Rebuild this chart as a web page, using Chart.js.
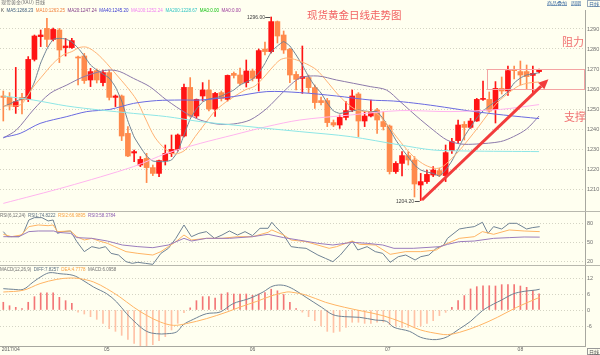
<!DOCTYPE html>
<html><head><meta charset="utf-8">
<script src="https://cdn.jsdelivr.net/npm/chart.js@4.4.1/dist/chart.umd.min.js"></script>
<style>
html,body{margin:0;padding:0;background:#fffff0;}
#wrap{position:relative;width:600px;height:355px;overflow:hidden;background:#fffff0;}
canvas{position:absolute;left:0;}
.t{position:absolute;white-space:nowrap;line-height:1;font-family:"Liberation Sans",Arial,sans-serif;}
.s{transform:scale(0.5);transform-origin:0 0;}
.row{display:flex;gap:5px;font-size:9px;}
.cjk{font-family:"Noto Sans CJK SC",sans-serif;}
.sep{position:absolute;left:0;width:600px;height:1px;background:#b8b8ae;}
.lbl{position:absolute;white-space:nowrap;line-height:1;font-family:"Liberation Sans",Arial,sans-serif;font-size:10px;color:#404040;transform-origin:100% 50%;transform:translate(-100%,-50%) scale(0.5);}
</style></head><body>
<div id="wrap">
<canvas id="cMain" width="600" height="211" style="top:0px"></canvas>
<canvas id="cRsi" width="600" height="53" style="top:212px"></canvas>
<canvas id="cMacd" width="600" height="89" style="top:266px"></canvas>
<div class="sep" style="top:211px"></div>
<div class="sep" style="top:265px"></div>

<div class="t cjk s" style="left:1px;top:-1px;font-size:10px;color:#707070">现货黄金(XAU) 日线</div>
<div class="t cjk s" style="left:547px;top:0px;font-size:10px;color:#3868a0;text-decoration:underline">商品叠加</div>
<div class="t cjk s" style="left:571px;top:0px;font-size:10px;color:#3868a0;text-decoration:underline">周期</div>
<div class="t cjk s" style="left:587px;top:0px;font-size:10px;color:#3868a0;border:2px solid #9ab;padding:0 2px">日线</div>

<div class="t s row" style="left:0.5px;top:7.8px">
 <span style="color:#404040">K</span>
 <span style="color:#3d5c7c">MA5:1268.23</span>
 <span style="color:#f0803c">MA10:1263.25</span>
 <span style="color:#803a86">MA20:1247.24</span>
 <span style="color:#3a3ad0">MA40:1245.20</span>
 <span style="color:#f080f0">MA100:1252.24</span>
 <span style="color:#30c4c4">MA200:1228.67</span>
 <span style="color:#10c010">MA0:0.00</span>
 <span style="color:#9a3a9a">MA0:0.00</span>
</div>

<div class="t cjk" style="left:307px;top:10px;font-size:10.5px;color:#f26262">现货黄金日线走势图</div>
<div class="t cjk" style="left:562px;top:36px;font-size:11px;color:#f07070">阻力</div>
<div class="t cjk" style="left:564px;top:111px;font-size:11px;color:#f07070">支撑</div>

<div class="t s row" style="left:0px;top:213px">
 <span style="color:#707070">RSI(6,12,24)</span>
 <span style="color:#5a6e80">RSI1:74.8222</span>
 <span style="color:#f8a040">RSI2:66.9895</span>
 <span style="color:#8a5ab0">RSI3:58.3784</span>
</div>

<div class="t s row" style="left:0px;top:267px">
 <span style="color:#707070">MACD(12,26,9)</span>
 <span style="color:#5a6e80">DIFF:7.8257</span>
 <span style="color:#f8a040">DEA:4.7778</span>
 <span style="color:#707070">MACD:6.0958</span>
</div>

<div class="t cjk s" style="left:587px;top:347.5px;font-size:10px;color:#505050;border:2px solid #999;padding:0 2px">日线</div>

<div class="lbl" id="hiLbl">1296.00</div>
<div class="lbl" id="loLbl">1204.20</div>
</div>
<script>
// ---------- data ----------
const opens  = [1256.5,1255.8,1251.2,1255.8,1254.8,1274.8,1286.2,1290.3,1284.8,1289.5,1280.7,1280.7,1276,1276.5,1264.5,1269.2,1263.2,1268.2,1255.8,1256.5,1237.8,1228,1222,1225.3,1220.7,1217.8,1224.2,1227.8,1229.8,1236.5,1260.8,1246.5,1256.5,1259.5,1250,1258.2,1254.8,1267.8,1267,1263.2,1269,1265.3,1280,1278.7,1293.7,1287,1279.8,1267.3,1265.3,1265.7,1260.7,1254.2,1254.2,1243.2,1242,1245.8,1249.5,1257.5,1244,1246.5,1249.5,1243.7,1241.5,1218.7,1222.8,1226.7,1224.5,1212,1213.7,1217,1219.2,1216.7,1229.2,1234.2,1242.3,1240.8,1244,1254.8,1254.8,1249.8,1260.3,1259,1269.8,1268.7,1268.7,1266.8,1268.7];
const highs  = [1259,1258.2,1270.8,1257.8,1276.2,1287,1289.5,1295.3,1290.5,1290.3,1285.3,1285.3,1276.5,1277.8,1270.3,1270,1269.5,1269.5,1257,1257,1241.2,1229.5,1226.2,1227.8,1222,1224.5,1232,1237,1237.5,1262.5,1265.7,1255,1263.2,1264.5,1258.3,1259,1267,1268.5,1270.5,1274.5,1270,1280,1283.5,1296,1294,1289,1280.3,1268.7,1281.5,1267,1262,1256,1255.3,1244.5,1247,1253.7,1259.5,1258.2,1248.7,1254.5,1250.3,1248.7,1242,1223.7,1228.7,1228.7,1226.2,1217.8,1219.5,1221.2,1220.3,1232,1235.3,1244.5,1243.7,1245.3,1255.3,1264,1258.5,1263.7,1266,1271.5,1271.5,1274,1272,1271.5,1270];
const lows   = [1244,1249.5,1247.8,1247.5,1253.7,1274,1281.2,1281.2,1284,1273.2,1276.5,1280.3,1262,1262.8,1261.2,1263,1261.5,1254.5,1251.2,1234.2,1226.2,1223.7,1221.2,1213.2,1216.7,1216.2,1222,1226.2,1229,1236,1246,1245.5,1254,1249,1246.3,1254,1254,1265.5,1262,1261,1264,1259,1277,1278,1283,1277.8,1263.2,1259.5,1257.8,1258,1250.3,1252,1241.2,1241.2,1240.3,1244.5,1248.7,1236.2,1241.2,1246,1237.8,1239.5,1217.5,1217.8,1216.5,1222,1206,1204.2,1212.8,1216.2,1216.2,1213.7,1227.8,1232.8,1234.5,1240.3,1243.8,1254.3,1248.5,1243,1257.5,1256.8,1265,1262,1260,1257.5,1268];
const closes = [1255.8,1252,1253.7,1254.5,1274.8,1286.5,1287,1284.8,1289.8,1279.5,1281.5,1284.2,1275.5,1264.2,1268.7,1264.5,1268.2,1255.8,1256.5,1236.5,1226.5,1228.7,1224.8,1220.7,1217.8,1224.2,1227.8,1229.8,1237,1260.8,1246.5,1254.8,1259.5,1250,1257.8,1255.3,1266.8,1266.8,1262.8,1269,1265.3,1279.2,1278.7,1293.7,1286.5,1279.5,1267,1264.8,1266.2,1260.7,1253.2,1253.2,1243.2,1242,1245.8,1249.2,1256.5,1244,1246.5,1248.7,1244.5,1241.2,1218.7,1222.8,1226.7,1224.5,1212.5,1213.7,1217.3,1219.5,1217,1228.2,1233.7,1242,1240.8,1244,1254.8,1255,1249,1260.3,1259,1269.2,1269.2,1267,1266.2,1267.8,1269.5];

// moving averages: [candle index, value]
const ma5 = [[0,1251.2],[1,1252.5],[2,1254],[3,1255],[4,1257],[5,1263.5],[6,1273],[7,1280],[8,1284.8],[9,1285.3],[10,1285],[11,1283.5],[12,1280.5],[13,1276.5],[14,1272],[15,1269.5],[16,1267.5],[17,1265.5],[18,1261],[19,1254],[20,1244],[21,1236],[22,1231],[23,1226.5],[24,1224],[25,1223.7],[26,1223.7],[27,1224.5],[28,1228.7],[29,1237],[30,1245],[31,1250],[32,1253.5],[33,1255],[34,1255.5],[35,1256.5],[36,1258],[37,1259.5],[38,1262],[39,1263.5],[40,1265],[41,1268],[42,1272.8],[43,1278.5],[44,1281.5],[45,1283.7],[46,1281.5],[47,1277],[48,1272],[49,1266.2],[50,1261.5],[51,1258],[52,1253],[53,1249],[54,1247.8],[55,1248.3],[56,1249],[57,1249.5],[58,1249],[59,1248.7],[60,1248.7],[61,1245],[62,1240],[63,1234.5],[64,1230],[65,1226],[66,1222],[67,1219.5],[68,1218.5],[69,1217.8],[70,1216.5],[71,1219.5],[72,1224],[73,1230],[74,1236.2],[75,1241],[76,1245.5],[77,1249],[78,1251.5],[79,1253.7],[80,1256],[81,1258.7],[82,1263],[83,1265.5],[84,1267],[85,1267.5],[86,1268.2]];
const ma10 = [[0,1251.5],[2.7,1252],[4,1257],[4.8,1261],[6.4,1267],[8,1272.8],[9.6,1277],[11,1278.7],[12.3,1280.8],[13.5,1280.8],[15,1277.8],[16.6,1272.8],[18.2,1267],[19.8,1261.2],[21.4,1254.5],[22.7,1246],[24.3,1236],[26,1230],[27.5,1227.5],[29.2,1229.5],[30.8,1236.2],[32.4,1242.8],[34,1249],[35.6,1253.2],[37.2,1256.5],[38.8,1259.5],[40.4,1261.5],[42,1266.5],[43.1,1270.5],[44.4,1274.5],[45.5,1275.5],[47.1,1274.5],[48.7,1272.5],[50.3,1269.5],[51.9,1264],[53.5,1258],[55.1,1253],[56.7,1249.5],[58.3,1248.7],[59.9,1247.8],[61.4,1243],[63,1236.5],[64.7,1230],[66.1,1225.5],[67.7,1222],[69.3,1220.3],[70.4,1221],[71.4,1223.5],[73,1228.5],[74.6,1234.5],[76.3,1241.2],[77.8,1247.5],[79.4,1253.5],[81.1,1258],[82.7,1261.5],[84.3,1263],[86,1263.5]];
const ma20 = [[0,1235.5],[2.1,1239.5],[4.8,1249.5],[7.5,1257.8],[10.2,1262],[12.8,1266],[15.5,1268.7],[17.1,1269.5],[18.7,1268.7],[20.9,1265.3],[23.5,1261.2],[26.2,1254.5],[29.4,1247.8],[31.6,1244.5],[34.3,1242.5],[36.9,1242.5],[39.6,1244.5],[42.3,1250.3],[45,1258.7],[47.6,1265.5],[50.5,1266.5],[53.5,1264.5],[58.9,1261.2],[61.5,1259.5],[63.7,1253.7],[66.4,1246.2],[69,1239.5],[71.2,1234.5],[73.4,1232.5],[76,1232.5],[79.8,1233.7],[81.9,1236.2],[84,1240],[86,1246.5]];
const ma40 = [[0,1235.8],[2.7,1237.8],[5.9,1242.8],[10.2,1246.2],[13.4,1248.7],[17.1,1249.8],[20.9,1252.8],[24.6,1254.2],[28.4,1254.5],[31.6,1254.5],[36.9,1256.2],[42.3,1258.7],[47.6,1258.2],[53.5,1256.5],[58.9,1254.5],[62.6,1254],[65.8,1253],[69.5,1251.5],[74.9,1249],[80.3,1247],[86,1245.2]];
const ma100 = [[0,1202.8],[10.2,1211.2],[20.9,1221.2],[26.2,1227.8],[31.6,1232.8],[36.9,1237],[42.3,1241.2],[47.6,1244.5],[55.7,1247],[63.7,1249.2],[71.7,1248.7],[79.8,1249.8],[86,1252.2]];
const ma200 = [[0,1256.5],[4.8,1254.5],[10.2,1251.5],[15.5,1249.5],[20.9,1247.8],[26.2,1246.2],[31.6,1243.7],[36.9,1242],[42.3,1240.3],[47.6,1238.7],[55.7,1236.2],[63.7,1232],[69,1229.5],[74.4,1229],[86,1228.7]];

const rsi1 = [[0,67],[0.7,59.1],[2.5,59.1],[3.2,64.3],[4.1,85.2],[5,88.9],[6.2,88.9],[7.2,83.7],[8,85.2],[8.7,64.3],[9.6,67],[10.8,68],[11.8,51.3],[13,35.7],[14.2,43.5],[15.4,40.9],[16.4,43.5],[17.3,33],[18.5,30.4],[19.7,20],[20.7,17.4],[21.6,19],[22.8,17.4],[24,15.8],[25.3,33],[26.5,40.9],[27.7,56.5],[29,77.4],[30.2,59.1],[31.4,64.3],[32.6,67],[33.9,56.5],[35.1,61.7],[36.3,68],[37.6,61.7],[38.8,67],[40,60.7],[41.2,72.2],[42.5,72.2],[43.1,81.6],[43.7,74.8],[45,61.7],[46.2,43.5],[47.4,41.9],[48.6,40.9],[50.5,30.4],[51.7,25.2],[52.9,20],[54.1,30.4],[56,52.3],[56.9,38.3],[58.4,43.5],[59.7,35.7],[60.9,33],[62.1,19],[63.4,27.8],[64.6,30.4],[66.1,22.6],[67,27.8],[68.3,30.4],[69.5,40.9],[70.7,46.1],[71.3,56.5],[73.2,71.1],[74.4,73.2],[75.6,74.8],[76.9,81.6],[77.8,64.3],[78.7,74.8],[80,71.1],[81.2,80],[82.4,80],[84,71.1],[84.9,73.2],[86.1,74.8]];
const rsi2 = [[0,62.8],[1.3,59.1],[2.85,61.7],[4.1,74.8],[5.6,77.4],[7.2,76.3],[8,77.4],[8.7,67],[10.8,68],[11.8,59.1],[13,53.9],[14.2,56.5],[15.4,52.3],[16.7,48.7],[17.9,43.5],[19.7,35.7],[21.6,33],[24,30.4],[25.3,35.7],[26.5,43.5],[27.7,51.3],[29,61.7],[30.2,53.9],[32.6,56.5],[35.1,56.5],[37.6,59.1],[40,59.1],[42.5,65.9],[43.1,69.6],[45,61.7],[46.2,53.9],[48.6,51.3],[52.3,40.9],[53.5,43.5],[56,52.3],[57.2,47.1],[59.7,46.1],[62.1,31.5],[64.6,35.7],[67,35.7],[69.5,38.3],[70.7,46.1],[73.2,56.5],[75.6,59.1],[76.9,67],[78.7,62.8],[81.2,69.6],[83.6,68],[86.1,67]];
const rsi3 = [[0,59.1],[2.5,59.1],[4.1,67],[5.6,68],[8.1,68],[8.7,65.9],[10.8,64.3],[11.8,57.6],[14.2,56.5],[16.7,52.3],[19.1,46.1],[21.6,43.5],[24,41.9],[26.5,46.1],[29,56.5],[30.2,52.3],[32.6,56.5],[36.3,56.5],[40,59.1],[42.5,62.8],[45,57.6],[47.4,53.9],[50.5,48.7],[52.9,46.1],[56,50.3],[58.4,48.7],[60.9,46.1],[62.7,40.9],[65.8,40.9],[70.1,43.5],[71.3,47.1],[73.2,51.3],[75.6,52.3],[78.7,56.5],[81.2,57.6],[83.6,58.6],[86.1,58.4]];

const diff = [[0,8],[1.6,7.75],[3.2,7.75],[4.8,10.5],[6.4,13],[7.5,14],[9.1,13.6],[11.2,13],[12.8,11.1],[14.5,8.6],[16.6,6.1],[18.2,3],[19.8,-1.4],[21.4,-5.1],[23,-8],[24.6,-8.9],[26.2,-8.9],[27.8,-8.25],[28.9,-5.5],[30.5,-3.5],[32.6,-1.4],[34.8,-0.75],[36.9,2.4],[39.1,4],[40.1,4.9],[41.7,6.75],[43.3,9],[45,9.25],[46.6,7.75],[48.6,4.75],[51.1,1],[52.9,-1.75],[54.8,-2.5],[57.2,-2.75],[59.7,-3.75],[61.5,-4.25],[62.7,-6.5],[65.2,-8],[67,-10.25],[68.9,-11.1],[70.1,-10.9],[71.3,-10],[73.2,-7.1],[75,-4.25],[76.9,-0.25],[78.7,2.25],[80,3.75],[81.8,6],[83.6,7],[85.5,7.5],[86.1,7.8]];
const dea = [[0,6.75],[3.2,7.4],[5.9,9.9],[8.6,11.5],[10.7,12],[12.3,11.75],[14.5,10.5],[16.6,8],[18.7,4.9],[20.9,1.1],[23,-2],[25.2,-4.5],[27.3,-5.75],[29.4,-5.1],[32.6,-3.25],[35.9,-0.75],[38,1.1],[40.7,3.25],[43.3,5.5],[45.5,6.75],[46.2,6.7],[48.6,5.6],[51.7,2.9],[54.8,1],[57.8,-0.5],[60.9,-2.1],[64,-4.6],[67,-7.5],[70.1,-9],[71.3,-9.25],[73.2,-8.4],[76.3,-5.9],[79.3,-2.75],[82.4,1],[86.1,4.78]];
const macdHist = [2.9,1.6,1,0.5,2.9,5,6.4,6.4,6.4,4.75,3.5,2.5,-0.8,-1.5,-2.5,-3.5,-5,-7,-8,-9.5,-11,-12.5,-13.5,-13.5,-13,-11.5,-10,-7.5,-5,-1,0.8,3.5,5,5,4.5,6,6.5,6,6,6,5.5,6,6.5,7.8,7.2,5.8,2.9,0.5,-0.8,-2.5,-4,-6,-8,-8.4,-8,-6.5,-4.6,-4.6,-5,-5,-4.6,-4.5,-5.5,-6,-6.5,-6.5,-6.5,-6,-5,-4,-2.1,-0.9,1,3.5,5.4,7.9,8.75,9.1,9.1,9,9.5,9.5,9.5,9,8.5,7.25,6.1];

const priceTicks = [1210,1220,1230,1240,1250,1260,1270,1280,1290];
const rsiTicks = [20,50,80];
const macdTicks = [-6,0,6,12];
const xTickPos = [1.2,16.6,40,61.7,83];
const xTickLabels = ['2017/04','05','06','07','08'];

// annotations (in data units)
const resistBox = {x0:77.7, x1:93.37, y0:1260, y1:1270};
const supportArrow = {from:[67.2,1204.5], to:[87.5,1264.9]};
const hiMark = {i:43, v:1296};
const loMark = {i:67, v:1204.2};

// ---------- chart setup ----------
const XMIN = -0.53, XMAX = 93.37;
const UP = '#ff1414', DOWN = '#ff8a4c';
Chart.defaults.font.family = '"Liberation Sans", Arial, sans-serif';
Chart.defaults.animation = false;

const xOpt = () => ({type:'linear', min:XMIN, max:XMAX, offset:false, display:false});
const yOpt = (min, max, ticks) => ({
  position:'right', min, max,
  afterBuildTicks: s => { s.ticks = ticks.map(v => ({value:v})); },
  afterFit: s => { s.width = 15; s.paddingTop = 0; s.paddingBottom = 0; },
  ticks:{font:{size:5.5}, color:'#707070', padding:2, callback: v => String(v)},
  grid:{color:'#d4d4c4', drawTicks:false, lineWidth:1},
  border:{display:true, color:'#a8a8a0', dash:[1,2]}
});
const pts = a => a.map(p => ({x:p[0], y:p[1]}));
const line = (a, color, tension) => ({type:'line', data:pts(a), borderColor:color, borderWidth:1, pointRadius:0, tension:tension, order:0});
const commonOpts = {responsive:false, animation:false, events:[], plugins:{legend:{display:false}, tooltip:{enabled:false}}};

const idx = opens.map((_, i) => i);
const candleColor = idx.map(i => closes[i] >= opens[i] ? UP : DOWN);

const annotPlugin = {
  id:'annot',
  afterDatasetsDraw(chart){
    const {ctx, scales:{x, y}} = chart;
    ctx.save();
    const bx0 = Math.round(x.getPixelForValue(resistBox.x0)) + 0.5;
    const bx1 = Math.round(x.getPixelForValue(resistBox.x1)) - 0.5;
    const by0 = Math.round(y.getPixelForValue(resistBox.y1)) + 0.5;
    const by1 = Math.round(y.getPixelForValue(resistBox.y0)) + 0.5;
    ctx.strokeStyle = '#f4a4a4'; ctx.lineWidth = 1;
    ctx.strokeRect(bx0, by0, bx1 - bx0, by1 - by0);
    const ax0 = x.getPixelForValue(supportArrow.from[0]), ay0 = y.getPixelForValue(supportArrow.from[1]);
    const ax1 = x.getPixelForValue(supportArrow.to[0]), ay1 = y.getPixelForValue(supportArrow.to[1]);
    const ang = Math.atan2(ay1 - ay0, ax1 - ax0), c = Math.cos(ang), s = Math.sin(ang);
    const hl = 10, hw = 4.5;
    ctx.strokeStyle = '#f23c3c'; ctx.fillStyle = '#f23c3c'; ctx.lineWidth = 3;
    ctx.beginPath(); ctx.moveTo(ax0, ay0); ctx.lineTo(ax1 - hl * c, ay1 - hl * s); ctx.stroke();
    ctx.beginPath(); ctx.moveTo(ax1, ay1);
    ctx.lineTo(ax1 - hl * c + hw * s, ay1 - hl * s - hw * c);
    ctx.lineTo(ax1 - hl * c - hw * s, ay1 - hl * s + hw * c);
    ctx.closePath(); ctx.fill();
    ctx.strokeStyle = '#505050'; ctx.lineWidth = 1;
    [hiMark, loMark].forEach(m => {
      const px = x.getPixelForValue(m.i), py = Math.round(y.getPixelForValue(m.v)) + 0.5;
      ctx.beginPath(); ctx.moveTo(px - 6, py); ctx.lineTo(px - 1, py); ctx.stroke();
    });
    ctx.restore();
  }
};

const mainChart = new Chart(document.getElementById('cMain'), {
  type:'bar',
  data:{datasets:[
    line(ma200, '#8ee6e6', 0.3),
    line(ma100, '#ffb4ee', 0.3),
    line(ma40, '#6a6ae0', 0.3),
    line(ma20, '#8c7aaa', 0.3),
    line(ma10, '#ffb274', 0.3),
    line(ma5, '#6f8294', 0.15),
    {type:'bar', data:idx.map(i => ({x:i, y:[opens[i], closes[i]]})), backgroundColor:candleColor, borderWidth:0,
     grouped:false, barPercentage:1, categoryPercentage:1, maxBarThickness:5, minBarLength:1, order:1},
    {type:'bar', data:idx.map(i => ({x:i, y:[lows[i], highs[i]]})), backgroundColor:candleColor, borderWidth:0,
     grouped:false, barPercentage:1, categoryPercentage:1, maxBarThickness:1, order:2}
  ]},
  options:{...commonOpts, layout:{padding:{top:10, bottom:1, left:0, right:0}},
    scales:{x:xOpt(), y:yOpt(1199.5, 1299.5, priceTicks)}},
  plugins:[annotPlugin]
});

new Chart(document.getElementById('cRsi'), {
  type:'line',
  data:{datasets:[line(rsi3, '#9a7cbc', 0), line(rsi2, '#ffb464', 0), line(rsi1, '#6f8294', 0)]},
  options:{...commonOpts, layout:{padding:0},
    scales:{x:xOpt(), y:yOpt(14.8, 97.7, rsiTicks)}}
});

const xMacd = {
  type:'linear', min:XMIN, max:XMAX, offset:false, display:true,
  afterBuildTicks: s => { s.ticks = xTickPos.map(v => ({value:v})); },
  afterFit: s => { s.height = 9; s.paddingLeft = 0; s.paddingRight = 0; },
  ticks:{font:{size:5}, color:'#606060', padding:1, autoSkip:false, maxRotation:0,
    callback:(v, i) => xTickLabels[i]},
  grid:{display:false, drawTicks:false},
  border:{display:true, color:'#a8a8a0'}
};
new Chart(document.getElementById('cMacd'), {
  type:'bar',
  data:{datasets:[
    line(dea, '#ffb464', 0.35),
    line(diff, '#6f8294', 0.35),
    {type:'bar', data:idx.map(i => ({x:i, y:[0, macdHist[i]]})),
     backgroundColor:macdHist.map(v => v >= 0 ? '#f37676' : '#ffc2a6'), borderWidth:0,
     grouped:false, barPercentage:1, categoryPercentage:1, maxBarThickness:1, order:1}
  ]},
  options:{...commonOpts, layout:{padding:0},
    scales:{x:xMacd, y:yOpt(-13.5, 16.5, macdTicks)}}
});

(function(){
  const xs = mainChart.scales.x, ys = mainChart.scales.y;
  [['hiLbl', hiMark], ['loLbl', loMark]].forEach(([id, m]) => {
    const el = document.getElementById(id);
    el.style.left = (xs.getPixelForValue(m.i) - 6.5) + 'px';
    el.style.top = ys.getPixelForValue(m.v) + 'px';
  });
})();
</script>
</body></html>
